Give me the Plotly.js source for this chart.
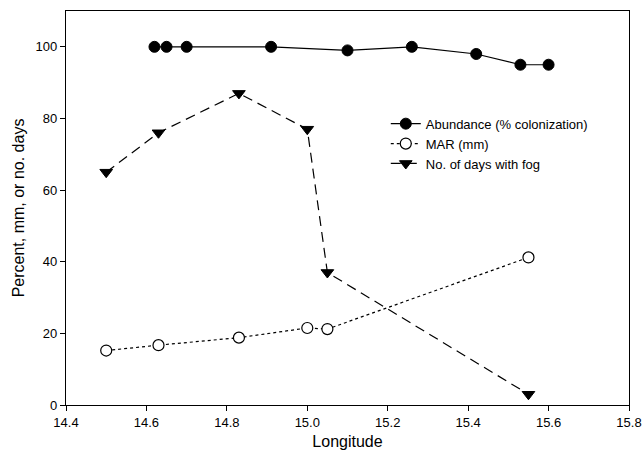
<!DOCTYPE html>
<html>
<head>
<meta charset="utf-8">
<script src="https://cdn.plot.ly/plotly-3.0.1.min.js"></script>
<style>html,body{margin:0;padding:0;background:#fff;}#chart{width:644px;height:458px;}</style>
</head>
<body>
<div id="chart"></div>
<script>
const abundanceX = [14.62, 14.65, 14.70, 14.91, 15.10, 15.26, 15.42, 15.53, 15.60];
const abundanceY = [100, 100, 100, 100, 99, 100, 98, 95, 95];
const marX = [14.50, 14.63, 14.83, 15.00, 15.05, 15.55];
const marY = [15.2, 16.7, 18.8, 21.5, 21.2, 41.2];
const fogX = [14.50, 14.63, 14.83, 15.00, 15.05, 15.55];
const fogY = [65, 76, 87, 77, 37, 3];
const seriesNames = ["Abundance (% colonization)", "MAR (mm)", "No. of days with fog"];
const xTicks = [14.4, 14.6, 14.8, 15.0, 15.2, 15.4, 15.6, 15.8];
const yTicks = [0, 20, 40, 60, 80, 100];

const FONT = "Liberation Sans, Arial, sans-serif";

const traces = [
  {
    x: abundanceX, y: abundanceY, name: seriesNames[0], type: "scatter", mode: "lines+markers",
    line: {color: "#000", width: 1.2, dash: "solid"},
    marker: {symbol: "circle", size: 11, color: "#000", line: {color: "#000", width: 1}}
  },
  {
    x: marX, y: marY, name: seriesNames[1], type: "scatter", mode: "lines+markers",
    line: {color: "#000", width: 1.2, dash: "dot"},
    marker: {symbol: "circle", size: 11, color: "#fff", line: {color: "#000", width: 1.2}}
  },
  {
    x: fogX, y: fogY, name: seriesNames[2], type: "scatter", mode: "lines+markers",
    line: {color: "#000", width: 1.2, dash: "10px,6px"},
    marker: {symbol: "triangle-down", size: 11, color: "#000", line: {color: "#000", width: 1}}
  }
];

const layout = {
  width: 644, height: 458,
  margin: {l: 66, r: 15, t: 11, b: 53},
  paper_bgcolor: "#fff", plot_bgcolor: "#fff",
  font: {family: FONT, size: 13, color: "#000"},
  showlegend: true,
  legend: {
    x: 0.568, y: 0.752, xanchor: "left", yanchor: "top",
    bgcolor: "rgba(0,0,0,0)", borderwidth: 0,
    font: {family: FONT, size: 13, color: "#000"},
    tracegroupgap: 0
  },
  xaxis: {
    range: [14.4, 15.8], tickvals: xTicks, ticktext: xTicks.map(v => v.toFixed(1)),
    ticks: "outside", ticklen: 5, tickwidth: 1, tickcolor: "#000",
    showline: true, linecolor: "#000", linewidth: 1.2, mirror: true,
    showgrid: false, zeroline: false,
    tickfont: {family: FONT, size: 13, color: "#000"},
    title: {text: "Longitude", font: {family: FONT, size: 16, color: "#000"}, standoff: 7}
  },
  yaxis: {
    range: [0, 110], tickvals: yTicks,
    ticks: "outside", ticklen: 5, tickwidth: 1, tickcolor: "#000",
    showline: true, linecolor: "#000", linewidth: 1.2, mirror: true,
    showgrid: false, zeroline: false,
    tickfont: {family: FONT, size: 13, color: "#000"},
    title: {text: "Percent, mm, or no. days", font: {family: FONT, size: 16, color: "#000"}, standoff: 6}
  }
};

Plotly.newPlot("chart", traces, layout, {displayModeBar: false, staticPlot: true});
</script>
</body>
</html>
